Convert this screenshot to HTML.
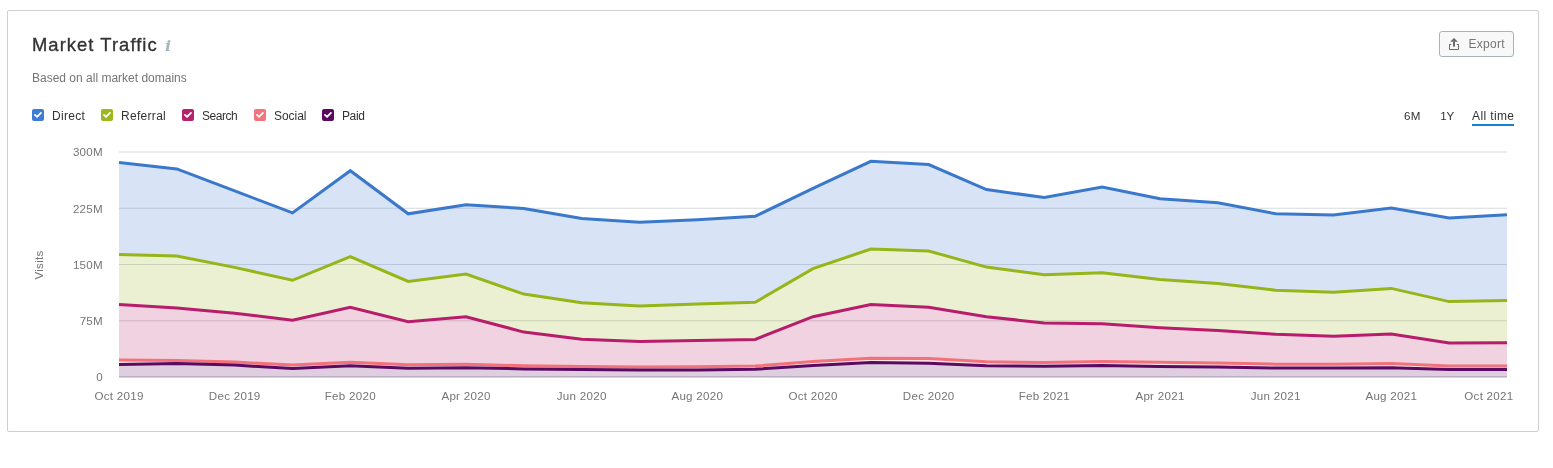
<!DOCTYPE html>
<html lang="en">
<head>
<meta charset="utf-8">
<title>Market Traffic</title>
<style>
html,body{margin:0;padding:0;background:#fff;}
body{width:1553px;height:468px;position:relative;overflow:hidden;font-family:"Liberation Sans",Arial,sans-serif;color:#333;}
.card{position:absolute;left:7px;top:10px;width:1530px;height:420px;border:1px solid #cfcfcf;border-radius:2px;background:#fff;}
.title{position:absolute;left:32px;top:33px;margin:0;font-size:18.4px;line-height:24px;font-weight:400;color:#333;letter-spacing:1.05px;white-space:nowrap;-webkit-text-stroke:0.35px #333;}
.info{position:absolute;left:165.3px;top:36px;font-family:"DejaVu Serif","Liberation Serif",serif;font-style:italic;font-size:14px;line-height:20px;color:#a6b5bc;font-weight:700;transform:scaleX(1.15);transform-origin:0 0;}
.sub{position:absolute;left:32px;top:70px;margin:0;font-size:12px;line-height:16px;color:#757575;white-space:nowrap;}
.lg{position:absolute;top:109px;height:12px;display:flex;align-items:center;white-space:nowrap;}
.cb{display:block;width:12px;height:12px;border-radius:2px;overflow:hidden;}
.cb svg{display:block}
.lt{margin-left:8px;font-size:12px;line-height:12px;color:#333;position:relative;top:0.6px;}
.export{position:absolute;left:1439px;top:31px;width:73px;height:24px;border:1px solid #a9b4b8;border-radius:3px;background:#f8f8f8;box-sizing:content-box;padding:0;font-family:inherit;}
.export svg{position:absolute;left:9px;top:6px;}
.export span{position:absolute;left:28.5px;top:5px;font-size:12px;line-height:14px;color:#757575;letter-spacing:0.3px;}
.rng{display:block;position:absolute;top:109px;font-size:12px;line-height:14px;color:#333;white-space:nowrap;}
.rng.act{border-bottom:2px solid #1681d8;padding-bottom:1px;}
.chart{position:absolute;left:0;top:0;}
.ax{font-family:"Liberation Sans",Arial,sans-serif;font-size:11.6px;letter-spacing:0.27px;fill:#757575;}
</style>
</head>
<body>
<div class="card"></div>
<h2 class="title">Market Traffic</h2>
<span class="info">i</span>
<p class="sub">Based on all market domains</p>
<button class="export"><svg width="10" height="12" viewBox="0 0 10 12"><path d="M2.2 6.5 H0.5 V11.5 H9.5 V6.5 H7.8" fill="none" stroke="#6a6a6a" stroke-width="1"/><rect x="4" y="3.6" width="2" height="5" fill="#6a6a6a"/><path d="M5 0 L1.1 3.8 L8.9 3.8 Z" fill="#6a6a6a"/></svg><span>Export</span></button>
<label class="lg" style="left:32px"><span class="cb" style="background:#3d7dd4"><svg width="12" height="12" viewBox="0 0 12 12"><path d="M3.0 5.9 L5.05 7.95 L8.95 3.95" fill="none" stroke="#fff" stroke-width="1.8" stroke-linecap="round" stroke-linejoin="round"/></svg></span><span class="lt" style="letter-spacing:0.3px">Direct</span></label><label class="lg" style="left:101px"><span class="cb" style="background:#9bb81f"><svg width="12" height="12" viewBox="0 0 12 12"><path d="M3.0 5.9 L5.05 7.95 L8.95 3.95" fill="none" stroke="#fff" stroke-width="1.8" stroke-linecap="round" stroke-linejoin="round"/></svg></span><span class="lt" style="letter-spacing:0.3px">Referral</span></label><label class="lg" style="left:182px"><span class="cb" style="background:#b5226b"><svg width="12" height="12" viewBox="0 0 12 12"><path d="M3.0 5.9 L5.05 7.95 L8.95 3.95" fill="none" stroke="#fff" stroke-width="1.8" stroke-linecap="round" stroke-linejoin="round"/></svg></span><span class="lt" style="letter-spacing:-0.45px">Search</span></label><label class="lg" style="left:254px"><span class="cb" style="background:#f3747b"><svg width="12" height="12" viewBox="0 0 12 12"><path d="M3.0 5.9 L5.05 7.95 L8.95 3.95" fill="none" stroke="#fff" stroke-width="1.8" stroke-linecap="round" stroke-linejoin="round"/></svg></span><span class="lt" style="letter-spacing:-0.05px">Social</span></label><label class="lg" style="left:322px"><span class="cb" style="background:#590a5c"><svg width="12" height="12" viewBox="0 0 12 12"><path d="M3.0 5.9 L5.05 7.95 L8.95 3.95" fill="none" stroke="#fff" stroke-width="1.8" stroke-linecap="round" stroke-linejoin="round"/></svg></span><span class="lt" style="letter-spacing:-0.4px">Paid</span></label>
<span class="rng" style="left:1404px;font-size:11.6px;letter-spacing:0.4px">6M</span>
<span class="rng" style="left:1440.3px;font-size:11.6px;letter-spacing:-0.3px">1Y</span>
<span class="rng act" style="left:1472px;letter-spacing:0.38px;width:42px;overflow:visible">All time</span>
<svg class="chart" width="1553" height="468" viewBox="0 0 1553 468"><line x1="119" x2="1507" y1="152.00" y2="152.00" stroke="#d8dbe0" stroke-width="1"/><line x1="119" x2="1507" y1="208.25" y2="208.25" stroke="#d8dbe0" stroke-width="1"/><line x1="119" x2="1507" y1="264.50" y2="264.50" stroke="#d8dbe0" stroke-width="1"/><line x1="119" x2="1507" y1="320.75" y2="320.75" stroke="#d8dbe0" stroke-width="1"/><line x1="119" x2="1507" y1="377.00" y2="377.00" stroke="#a9b0b8" stroke-width="1"/><polygon points="119.0,162.6 176.8,168.9 234.7,190.9 292.5,212.9 350.3,170.7 408.2,213.8 466.0,204.7 523.8,208.5 581.7,218.6 639.5,222.3 697.3,219.8 755.2,216.3 813.0,188.3 870.8,161.3 928.7,164.5 986.5,189.6 1044.3,197.5 1102.2,187.1 1160.0,198.7 1217.8,202.8 1275.7,213.8 1333.5,215.1 1391.3,208.1 1449.2,217.9 1507.0,214.7 1507.0,300.4 1449.2,301.6 1391.3,288.4 1333.5,292.2 1275.7,290.3 1217.8,283.4 1160.0,279.6 1102.2,272.7 1044.3,274.8 986.5,267.1 928.7,251.0 870.8,249.1 813.0,268.6 755.2,302.3 697.3,304.1 639.5,306.0 581.7,302.7 523.8,294.1 466.0,274.0 408.2,281.5 350.3,256.7 292.5,280.3 234.7,267.4 176.8,256.1 119.0,254.5" fill="#3a78cc" fill-opacity="0.2"/><polygon points="119.0,254.5 176.8,256.1 234.7,267.4 292.5,280.3 350.3,256.7 408.2,281.5 466.0,274.0 523.8,294.1 581.7,302.7 639.5,306.0 697.3,304.1 755.2,302.3 813.0,268.6 870.8,249.1 928.7,251.0 986.5,267.1 1044.3,274.8 1102.2,272.7 1160.0,279.6 1217.8,283.4 1275.7,290.3 1333.5,292.2 1391.3,288.4 1449.2,301.6 1507.0,300.4 1507.0,342.8 1449.2,343.1 1391.3,334.0 1333.5,336.2 1275.7,334.3 1217.8,330.6 1160.0,327.7 1102.2,323.7 1044.3,323.0 986.5,316.7 928.7,307.3 870.8,304.5 813.0,316.7 755.2,339.4 697.3,340.6 639.5,341.6 581.7,339.2 523.8,332.1 466.0,316.7 408.2,321.8 350.3,307.3 292.5,320.2 234.7,313.3 176.8,307.9 119.0,304.5" fill="#95b518" fill-opacity="0.2"/><polygon points="119.0,304.5 176.8,307.9 234.7,313.3 292.5,320.2 350.3,307.3 408.2,321.8 466.0,316.7 523.8,332.1 581.7,339.2 639.5,341.6 697.3,340.6 755.2,339.4 813.0,316.7 870.8,304.5 928.7,307.3 986.5,316.7 1044.3,323.0 1102.2,323.7 1160.0,327.7 1217.8,330.6 1275.7,334.3 1333.5,336.2 1391.3,334.0 1449.2,343.1 1507.0,342.8 1507.0,366.1 1449.2,366.1 1391.3,363.6 1333.5,364.2 1275.7,364.2 1217.8,362.9 1160.0,362.3 1102.2,361.4 1044.3,362.6 986.5,361.7 928.7,358.5 870.8,358.2 813.0,361.4 755.2,366.1 697.3,366.7 639.5,367.0 581.7,366.4 523.8,365.8 466.0,364.2 408.2,364.8 350.3,362.3 292.5,365.1 234.7,362.0 176.8,360.4 119.0,360.1" fill="#b81d6b" fill-opacity="0.2"/><polygon points="119.0,360.1 176.8,360.4 234.7,362.0 292.5,365.1 350.3,362.3 408.2,364.8 466.0,364.2 523.8,365.8 581.7,366.4 639.5,367.0 697.3,366.7 755.2,366.1 813.0,361.4 870.8,358.2 928.7,358.5 986.5,361.7 1044.3,362.6 1102.2,361.4 1160.0,362.3 1217.8,362.9 1275.7,364.2 1333.5,364.2 1391.3,363.6 1449.2,366.1 1507.0,366.1 1507.0,369.5 1449.2,369.5 1391.3,367.7 1333.5,368.0 1275.7,368.0 1217.8,367.0 1160.0,366.4 1102.2,365.5 1044.3,366.3 986.5,365.8 928.7,363.3 870.8,362.6 813.0,365.5 755.2,369.2 697.3,369.9 639.5,369.9 581.7,369.5 523.8,368.9 466.0,367.7 408.2,368.3 350.3,365.8 292.5,368.6 234.7,365.1 176.8,363.6 119.0,364.5" fill="#f2717a" fill-opacity="0.2"/><polygon points="119.0,364.5 176.8,363.6 234.7,365.1 292.5,368.6 350.3,365.8 408.2,368.3 466.0,367.7 523.8,368.9 581.7,369.5 639.5,369.9 697.3,369.9 755.2,369.2 813.0,365.5 870.8,362.6 928.7,363.3 986.5,365.8 1044.3,366.3 1102.2,365.5 1160.0,366.4 1217.8,367.0 1275.7,368.0 1333.5,368.0 1391.3,367.7 1449.2,369.5 1507.0,369.5 1507.0,377.0 1449.2,377.0 1391.3,377.0 1333.5,377.0 1275.7,377.0 1217.8,377.0 1160.0,377.0 1102.2,377.0 1044.3,377.0 986.5,377.0 928.7,377.0 870.8,377.0 813.0,377.0 755.2,377.0 697.3,377.0 639.5,377.0 581.7,377.0 523.8,377.0 466.0,377.0 408.2,377.0 350.3,377.0 292.5,377.0 234.7,377.0 176.8,377.0 119.0,377.0" fill="#5a0a60" fill-opacity="0.2"/><polyline points="119.0,162.6 176.8,168.9 234.7,190.9 292.5,212.9 350.3,170.7 408.2,213.8 466.0,204.7 523.8,208.5 581.7,218.6 639.5,222.3 697.3,219.8 755.2,216.3 813.0,188.3 870.8,161.3 928.7,164.5 986.5,189.6 1044.3,197.5 1102.2,187.1 1160.0,198.7 1217.8,202.8 1275.7,213.8 1333.5,215.1 1391.3,208.1 1449.2,217.9 1507.0,214.7" fill="none" stroke="#3a78cc" stroke-width="3" stroke-linejoin="miter"/><polyline points="119.0,254.5 176.8,256.1 234.7,267.4 292.5,280.3 350.3,256.7 408.2,281.5 466.0,274.0 523.8,294.1 581.7,302.7 639.5,306.0 697.3,304.1 755.2,302.3 813.0,268.6 870.8,249.1 928.7,251.0 986.5,267.1 1044.3,274.8 1102.2,272.7 1160.0,279.6 1217.8,283.4 1275.7,290.3 1333.5,292.2 1391.3,288.4 1449.2,301.6 1507.0,300.4" fill="none" stroke="#95b518" stroke-width="3" stroke-linejoin="miter"/><polyline points="119.0,304.5 176.8,307.9 234.7,313.3 292.5,320.2 350.3,307.3 408.2,321.8 466.0,316.7 523.8,332.1 581.7,339.2 639.5,341.6 697.3,340.6 755.2,339.4 813.0,316.7 870.8,304.5 928.7,307.3 986.5,316.7 1044.3,323.0 1102.2,323.7 1160.0,327.7 1217.8,330.6 1275.7,334.3 1333.5,336.2 1391.3,334.0 1449.2,343.1 1507.0,342.8" fill="none" stroke="#b81d6b" stroke-width="3" stroke-linejoin="miter"/><polyline points="119.0,360.1 176.8,360.4 234.7,362.0 292.5,365.1 350.3,362.3 408.2,364.8 466.0,364.2 523.8,365.8 581.7,366.4 639.5,367.0 697.3,366.7 755.2,366.1 813.0,361.4 870.8,358.2 928.7,358.5 986.5,361.7 1044.3,362.6 1102.2,361.4 1160.0,362.3 1217.8,362.9 1275.7,364.2 1333.5,364.2 1391.3,363.6 1449.2,366.1 1507.0,366.1" fill="none" stroke="#f2717a" stroke-width="3" stroke-linejoin="miter"/><polyline points="119.0,364.5 176.8,363.6 234.7,365.1 292.5,368.6 350.3,365.8 408.2,368.3 466.0,367.7 523.8,368.9 581.7,369.5 639.5,369.9 697.3,369.9 755.2,369.2 813.0,365.5 870.8,362.6 928.7,363.3 986.5,365.8 1044.3,366.3 1102.2,365.5 1160.0,366.4 1217.8,367.0 1275.7,368.0 1333.5,368.0 1391.3,367.7 1449.2,369.5 1507.0,369.5" fill="none" stroke="#5a0a60" stroke-width="3" stroke-linejoin="miter"/><text class="ax" x="103" y="155.9" text-anchor="end">300M</text><text class="ax" x="103" y="212.7" text-anchor="end">225M</text><text class="ax" x="103" y="268.5" text-anchor="end">150M</text><text class="ax" x="103" y="324.7" text-anchor="end">75M</text><text class="ax" x="103" y="380.9" text-anchor="end">0</text><text class="ax" x="119.0" y="400" text-anchor="middle">Oct 2019</text><text class="ax" x="234.7" y="400" text-anchor="middle">Dec 2019</text><text class="ax" x="350.3" y="400" text-anchor="middle">Feb 2020</text><text class="ax" x="466.0" y="400" text-anchor="middle">Apr 2020</text><text class="ax" x="581.7" y="400" text-anchor="middle">Jun 2020</text><text class="ax" x="697.3" y="400" text-anchor="middle">Aug 2020</text><text class="ax" x="813.0" y="400" text-anchor="middle">Oct 2020</text><text class="ax" x="928.7" y="400" text-anchor="middle">Dec 2020</text><text class="ax" x="1044.3" y="400" text-anchor="middle">Feb 2021</text><text class="ax" x="1160.0" y="400" text-anchor="middle">Apr 2021</text><text class="ax" x="1275.7" y="400" text-anchor="middle">Jun 2021</text><text class="ax" x="1391.3" y="400" text-anchor="middle">Aug 2021</text><text class="ax" x="1513.5" y="400" text-anchor="end">Oct 2021</text><text class="ax" transform="translate(43,265) rotate(-90)" text-anchor="middle">Visits</text></svg>
</body>
</html>
